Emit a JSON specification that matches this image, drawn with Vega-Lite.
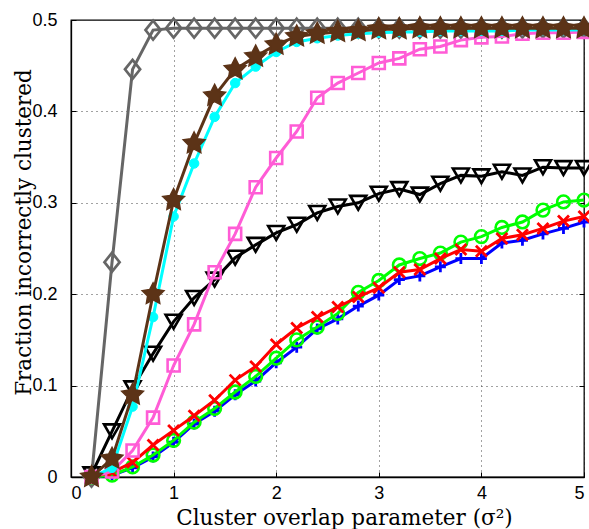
{
  "$schema": "https://vega.github.io/schema/vega-lite/v6.json",
  "width": 513,
  "height": 457,
  "autosize": {"type": "none"},
  "padding": {"left": 71, "top": 20, "right": 5, "bottom": 52},
  "background": "white",
  "config": {
    "view": {"stroke": "black", "strokeWidth": 1.3},
    "axis": {
      "domainColor": "black",
      "domainWidth": 1.3,
      "tickColor": "black",
      "tickSize": -5,
      "tickWidth": 1,
      "grid": true,
      "gridColor": "#444444",
      "gridDash": [1, 4],
      "gridWidth": 1,
      "labelFont": "Liberation Sans",
      "labelFontSize": 18,
      "labelColor": "black",
      "titleFont": "DejaVu Serif",
      "titleFontSize": 21.5,
      "titleFontWeight": "normal",
      "titleColor": "black"
    }
  },
  "data": {
    "values": [
      {"s": "diamond", "x": 0.2, "y": 0.0}, {"s": "diamond", "x": 0.4, "y": 0.235}, {"s": "diamond", "x": 0.6, "y": 0.446}, {"s": "diamond", "x": 0.8, "y": 0.489}, {"s": "diamond", "x": 1.0, "y": 0.491}, {"s": "diamond", "x": 1.2, "y": 0.491}, {"s": "diamond", "x": 1.4, "y": 0.491}, {"s": "diamond", "x": 1.6, "y": 0.491}, {"s": "diamond", "x": 1.8, "y": 0.491}, {"s": "diamond", "x": 2.0, "y": 0.491}, {"s": "diamond", "x": 2.2, "y": 0.491}, {"s": "diamond", "x": 2.4, "y": 0.491}, {"s": "diamond", "x": 2.6, "y": 0.491}, {"s": "diamond", "x": 2.8, "y": 0.491}, {"s": "diamond", "x": 3.0, "y": 0.491}, {"s": "diamond", "x": 3.2, "y": 0.491}, {"s": "diamond", "x": 3.4, "y": 0.491}, {"s": "diamond", "x": 3.6, "y": 0.491}, {"s": "diamond", "x": 3.8, "y": 0.491}, {"s": "diamond", "x": 4.0, "y": 0.491}, {"s": "diamond", "x": 4.2, "y": 0.491}, {"s": "diamond", "x": 4.4, "y": 0.491}, {"s": "diamond", "x": 4.6, "y": 0.491}, {"s": "diamond", "x": 4.8, "y": 0.491}, {"s": "diamond", "x": 5.0, "y": 0.491},

      {"s": "plus", "x": 0.2, "y": 0.0}, {"s": "plus", "x": 0.4, "y": 0.002}, {"s": "plus", "x": 0.6, "y": 0.01}, {"s": "plus", "x": 0.8, "y": 0.022}, {"s": "plus", "x": 1.0, "y": 0.038}, {"s": "plus", "x": 1.2, "y": 0.058}, {"s": "plus", "x": 1.4, "y": 0.072}, {"s": "plus", "x": 1.6, "y": 0.09}, {"s": "plus", "x": 1.8, "y": 0.105}, {"s": "plus", "x": 2.0, "y": 0.125}, {"s": "plus", "x": 2.2, "y": 0.142}, {"s": "plus", "x": 2.4, "y": 0.162}, {"s": "plus", "x": 2.6, "y": 0.173}, {"s": "plus", "x": 2.8, "y": 0.187}, {"s": "plus", "x": 3.0, "y": 0.199}, {"s": "plus", "x": 3.2, "y": 0.216}, {"s": "plus", "x": 3.4, "y": 0.22}, {"s": "plus", "x": 3.6, "y": 0.23}, {"s": "plus", "x": 3.8, "y": 0.239}, {"s": "plus", "x": 4.0, "y": 0.239}, {"s": "plus", "x": 4.2, "y": 0.256}, {"s": "plus", "x": 4.4, "y": 0.259}, {"s": "plus", "x": 4.6, "y": 0.266}, {"s": "plus", "x": 4.8, "y": 0.272}, {"s": "plus", "x": 5.0, "y": 0.279},

      {"s": "circle", "x": 0.2, "y": 0.0}, {"s": "circle", "x": 0.4, "y": 0.002}, {"s": "circle", "x": 0.6, "y": 0.011}, {"s": "circle", "x": 0.8, "y": 0.024}, {"s": "circle", "x": 1.0, "y": 0.04}, {"s": "circle", "x": 1.2, "y": 0.06}, {"s": "circle", "x": 1.4, "y": 0.075}, {"s": "circle", "x": 1.6, "y": 0.093}, {"s": "circle", "x": 1.8, "y": 0.11}, {"s": "circle", "x": 2.0, "y": 0.13}, {"s": "circle", "x": 2.2, "y": 0.15}, {"s": "circle", "x": 2.4, "y": 0.164}, {"s": "circle", "x": 2.6, "y": 0.179}, {"s": "circle", "x": 2.8, "y": 0.202}, {"s": "circle", "x": 3.0, "y": 0.215}, {"s": "circle", "x": 3.2, "y": 0.232}, {"s": "circle", "x": 3.4, "y": 0.239}, {"s": "circle", "x": 3.6, "y": 0.245}, {"s": "circle", "x": 3.8, "y": 0.257}, {"s": "circle", "x": 4.0, "y": 0.263}, {"s": "circle", "x": 4.2, "y": 0.273}, {"s": "circle", "x": 4.4, "y": 0.279}, {"s": "circle", "x": 4.6, "y": 0.292}, {"s": "circle", "x": 4.8, "y": 0.301}, {"s": "circle", "x": 5.0, "y": 0.303},

      {"s": "cross", "x": 0.2, "y": 0.0}, {"s": "cross", "x": 0.4, "y": 0.005}, {"s": "cross", "x": 0.6, "y": 0.016}, {"s": "cross", "x": 0.8, "y": 0.035}, {"s": "cross", "x": 1.0, "y": 0.051}, {"s": "cross", "x": 1.2, "y": 0.067}, {"s": "cross", "x": 1.4, "y": 0.084}, {"s": "cross", "x": 1.6, "y": 0.106}, {"s": "cross", "x": 1.8, "y": 0.121}, {"s": "cross", "x": 2.0, "y": 0.145}, {"s": "cross", "x": 2.2, "y": 0.163}, {"s": "cross", "x": 2.4, "y": 0.175}, {"s": "cross", "x": 2.6, "y": 0.186}, {"s": "cross", "x": 2.8, "y": 0.197}, {"s": "cross", "x": 3.0, "y": 0.207}, {"s": "cross", "x": 3.2, "y": 0.224}, {"s": "cross", "x": 3.4, "y": 0.227}, {"s": "cross", "x": 3.6, "y": 0.239}, {"s": "cross", "x": 3.8, "y": 0.249}, {"s": "cross", "x": 4.0, "y": 0.247}, {"s": "cross", "x": 4.2, "y": 0.261}, {"s": "cross", "x": 4.4, "y": 0.265}, {"s": "cross", "x": 4.6, "y": 0.272}, {"s": "cross", "x": 4.8, "y": 0.28}, {"s": "cross", "x": 5.0, "y": 0.285},

      {"s": "triangle", "x": 0.2, "y": 0.003}, {"s": "triangle", "x": 0.4, "y": 0.05}, {"s": "triangle", "x": 0.6, "y": 0.097}, {"s": "triangle", "x": 0.8, "y": 0.135}, {"s": "triangle", "x": 1.0, "y": 0.17}, {"s": "triangle", "x": 1.2, "y": 0.196}, {"s": "triangle", "x": 1.4, "y": 0.216}, {"s": "triangle", "x": 1.6, "y": 0.24}, {"s": "triangle", "x": 1.8, "y": 0.254}, {"s": "triangle", "x": 2.0, "y": 0.267}, {"s": "triangle", "x": 2.2, "y": 0.276}, {"s": "triangle", "x": 2.4, "y": 0.289}, {"s": "triangle", "x": 2.6, "y": 0.296}, {"s": "triangle", "x": 2.8, "y": 0.3}, {"s": "triangle", "x": 3.0, "y": 0.31}, {"s": "triangle", "x": 3.2, "y": 0.315}, {"s": "triangle", "x": 3.4, "y": 0.309}, {"s": "triangle", "x": 3.6, "y": 0.321}, {"s": "triangle", "x": 3.8, "y": 0.33}, {"s": "triangle", "x": 4.0, "y": 0.329}, {"s": "triangle", "x": 4.2, "y": 0.334}, {"s": "triangle", "x": 4.4, "y": 0.33}, {"s": "triangle", "x": 4.6, "y": 0.339}, {"s": "triangle", "x": 4.8, "y": 0.338}, {"s": "triangle", "x": 5.0, "y": 0.338},

      {"s": "square", "x": 0.2, "y": 0.0}, {"s": "square", "x": 0.4, "y": 0.006}, {"s": "square", "x": 0.6, "y": 0.029}, {"s": "square", "x": 0.8, "y": 0.065}, {"s": "square", "x": 1.0, "y": 0.122}, {"s": "square", "x": 1.2, "y": 0.167}, {"s": "square", "x": 1.4, "y": 0.224}, {"s": "square", "x": 1.6, "y": 0.266}, {"s": "square", "x": 1.8, "y": 0.317}, {"s": "square", "x": 2.0, "y": 0.349}, {"s": "square", "x": 2.2, "y": 0.378}, {"s": "square", "x": 2.4, "y": 0.415}, {"s": "square", "x": 2.6, "y": 0.431}, {"s": "square", "x": 2.8, "y": 0.442}, {"s": "square", "x": 3.0, "y": 0.453}, {"s": "square", "x": 3.2, "y": 0.458}, {"s": "square", "x": 3.4, "y": 0.468}, {"s": "square", "x": 3.6, "y": 0.471}, {"s": "square", "x": 3.8, "y": 0.478}, {"s": "square", "x": 4.0, "y": 0.481}, {"s": "square", "x": 4.2, "y": 0.482}, {"s": "square", "x": 4.4, "y": 0.485}, {"s": "square", "x": 4.6, "y": 0.486}, {"s": "square", "x": 4.8, "y": 0.486}, {"s": "square", "x": 5.0, "y": 0.487},

      {"s": "dot", "x": 0.2, "y": 0.0}, {"s": "dot", "x": 0.4, "y": 0.01}, {"s": "dot", "x": 0.6, "y": 0.077}, {"s": "dot", "x": 0.8, "y": 0.175}, {"s": "dot", "x": 1.0, "y": 0.285}, {"s": "dot", "x": 1.2, "y": 0.343}, {"s": "dot", "x": 1.4, "y": 0.394}, {"s": "dot", "x": 1.6, "y": 0.431}, {"s": "dot", "x": 1.8, "y": 0.449}, {"s": "dot", "x": 2.0, "y": 0.465}, {"s": "dot", "x": 2.2, "y": 0.476}, {"s": "dot", "x": 2.4, "y": 0.48}, {"s": "dot", "x": 2.6, "y": 0.483}, {"s": "dot", "x": 2.8, "y": 0.485}, {"s": "dot", "x": 3.0, "y": 0.486}, {"s": "dot", "x": 3.2, "y": 0.487}, {"s": "dot", "x": 3.4, "y": 0.487}, {"s": "dot", "x": 3.6, "y": 0.488}, {"s": "dot", "x": 3.8, "y": 0.488}, {"s": "dot", "x": 4.0, "y": 0.488}, {"s": "dot", "x": 4.2, "y": 0.488}, {"s": "dot", "x": 4.4, "y": 0.489}, {"s": "dot", "x": 4.6, "y": 0.489}, {"s": "dot", "x": 4.8, "y": 0.489}, {"s": "dot", "x": 5.0, "y": 0.489},

      {"s": "star", "x": 0.2, "y": 0.0}, {"s": "star", "x": 0.4, "y": 0.02}, {"s": "star", "x": 0.6, "y": 0.09}, {"s": "star", "x": 0.8, "y": 0.2}, {"s": "star", "x": 1.0, "y": 0.303}, {"s": "star", "x": 1.2, "y": 0.365}, {"s": "star", "x": 1.4, "y": 0.417}, {"s": "star", "x": 1.6, "y": 0.446}, {"s": "star", "x": 1.8, "y": 0.46}, {"s": "star", "x": 2.0, "y": 0.473}, {"s": "star", "x": 2.2, "y": 0.482}, {"s": "star", "x": 2.4, "y": 0.485}, {"s": "star", "x": 2.6, "y": 0.487}, {"s": "star", "x": 2.8, "y": 0.488}, {"s": "star", "x": 3.0, "y": 0.49}, {"s": "star", "x": 3.2, "y": 0.49}, {"s": "star", "x": 3.4, "y": 0.491}, {"s": "star", "x": 3.6, "y": 0.491}, {"s": "star", "x": 3.8, "y": 0.491}, {"s": "star", "x": 4.0, "y": 0.491}, {"s": "star", "x": 4.2, "y": 0.491}, {"s": "star", "x": 4.4, "y": 0.491}, {"s": "star", "x": 4.6, "y": 0.491}, {"s": "star", "x": 4.8, "y": 0.491}, {"s": "star", "x": 5.0, "y": 0.491}
    ]
  },
  "encoding": {
    "x": {"field": "x", "type": "quantitative", "scale": {"domain": [0, 5], "nice": false}, "axis": null},
    "y": {"field": "y", "type": "quantitative", "scale": {"domain": [0, 0.5], "nice": false}, "axis": null}
  },
  "resolve": {"axis": {"x": "independent", "y": "independent"}},
  "layer": [
    {
      "mark": {"type": "point", "opacity": 0},
      "encoding": {
        "x": {
          "field": "x", "type": "quantitative",
          "scale": {"domain": [0, 5], "nice": false},
          "axis": {
            "values": [0, 1, 2, 3, 4, 5], "format": "~g",
            "labelPadding": 12,
            "title": "Cluster overlap parameter (σ²)",
            "titleX": 273, "titleY": 47, "titleBaseline": "alphabetic", "titleAlign": "center", "titleAnchor": null
          }
        },
        "y": {
          "field": "y", "type": "quantitative",
          "scale": {"domain": [0, 0.5], "nice": false},
          "axis": {
            "values": [0, 0.1, 0.2, 0.3, 0.4, 0.5], "format": "~g",
            "labelPadding": 19,
            "title": "Fraction incorrectly clustered",
            "titleX": -41, "titleY": 212, "titleBaseline": "alphabetic", "titleAlign": "center", "titleAngle": 270, "titleAnchor": null
          }
        }
      }
    },
    {
      "mark": {"type": "point", "opacity": 0},
      "encoding": {
        "x": {
          "field": "x", "type": "quantitative",
          "scale": {"domain": [0, 5], "nice": false},
          "axis": {"orient": "top", "values": [0, 1, 2, 3, 4, 5], "labels": false, "grid": false, "domain": false, "title": null}
        },
        "y": {
          "field": "y", "type": "quantitative",
          "scale": {"domain": [0, 0.5], "nice": false},
          "axis": {"orient": "right", "values": [0, 0.1, 0.2, 0.3, 0.4, 0.5], "labels": false, "grid": false, "domain": false, "title": null}
        }
      }
    },
    {
      "transform": [{"filter": {"field": "s", "equal": "diamond"}}],
      "layer": [
        {"mark": {"type": "line", "color": "#666666", "strokeWidth": 3, "clip": false}, "encoding": {}},
        {"mark": {"type": "point", "shape": "M0,-1L0.8,0L0,1L-0.8,0Z", "size": 360, "filled": false, "color": "#666666", "strokeWidth": 2.7, "opacity": 1, "clip": false}, "encoding": {}}
      ]
    },
    {
      "transform": [{"filter": {"field": "s", "equal": "plus"}}],
      "layer": [
        {"mark": {"type": "line", "color": "#0000ff", "strokeWidth": 3, "clip": false}, "encoding": {}},
        {"mark": {"type": "point", "shape": "M-1,0L1,0M0,-1L0,1", "size": 121, "filled": false, "color": "#0000ff", "strokeWidth": 2.8, "opacity": 1, "clip": false}, "encoding": {}}
      ]
    },
    {
      "transform": [{"filter": {"field": "s", "equal": "circle"}}],
      "layer": [
        {"mark": {"type": "line", "color": "#00ff00", "strokeWidth": 3, "clip": false}, "encoding": {}},
        {"mark": {"type": "point", "shape": "circle", "size": 160, "filled": false, "color": "#00ff00", "strokeWidth": 2.6, "opacity": 1, "clip": false}, "encoding": {}}
      ]
    },
    {
      "transform": [{"filter": {"field": "s", "equal": "cross"}}],
      "layer": [
        {"mark": {"type": "line", "color": "#ff0000", "strokeWidth": 3, "clip": false}, "encoding": {}},
        {"mark": {"type": "point", "shape": "M-1,-1L1,1M-1,1L1,-1", "size": 121, "filled": false, "color": "#ff0000", "strokeWidth": 2.8, "opacity": 1, "clip": false}, "encoding": {}}
      ]
    },
    {
      "transform": [{"filter": {"field": "s", "equal": "triangle"}}],
      "layer": [
        {"mark": {"type": "line", "color": "#000000", "strokeWidth": 3, "clip": false}, "encoding": {}},
        {"mark": {"type": "point", "shape": "triangle-down", "size": 256, "filled": false, "color": "#000000", "strokeWidth": 2.6, "opacity": 1, "clip": false}, "encoding": {}}
      ]
    },
    {
      "transform": [{"filter": {"field": "s", "equal": "square"}}],
      "layer": [
        {"mark": {"type": "line", "color": "#ff5cd6", "strokeWidth": 3, "clip": false}, "encoding": {}},
        {"mark": {"type": "point", "shape": "square", "size": 144, "filled": false, "color": "#ff5cd6", "strokeWidth": 2.6, "opacity": 1, "clip": false}, "encoding": {}}
      ]
    },
    {
      "transform": [{"filter": {"field": "s", "equal": "dot"}}],
      "layer": [
        {"mark": {"type": "line", "color": "#00ffff", "strokeWidth": 3, "clip": false}, "encoding": {}},
        {"mark": {"type": "point", "shape": "circle", "size": 90, "filled": true, "color": "#00ffff", "strokeWidth": 1, "stroke": "#00ffff", "opacity": 1, "clip": false}, "encoding": {}}
      ]
    },
    {
      "transform": [{"filter": {"field": "s", "equal": "star"}}],
      "layer": [
        {"mark": {"type": "line", "color": "#5c3317", "strokeWidth": 3, "clip": false}, "encoding": {}},
        {"mark": {"type": "point", "shape": "M0,-1L0.3,-0.41L0.951,-0.309L0.48,0.156L0.588,0.809L0,0.5L-0.588,0.809L-0.48,0.156L-0.951,-0.309L-0.3,-0.41Z", "size": 520, "filled": true, "color": "#5c3317", "stroke": "#5c3317", "strokeWidth": 1.5, "opacity": 1, "clip": false}, "encoding": {}}
      ]
    }
  ]
}
